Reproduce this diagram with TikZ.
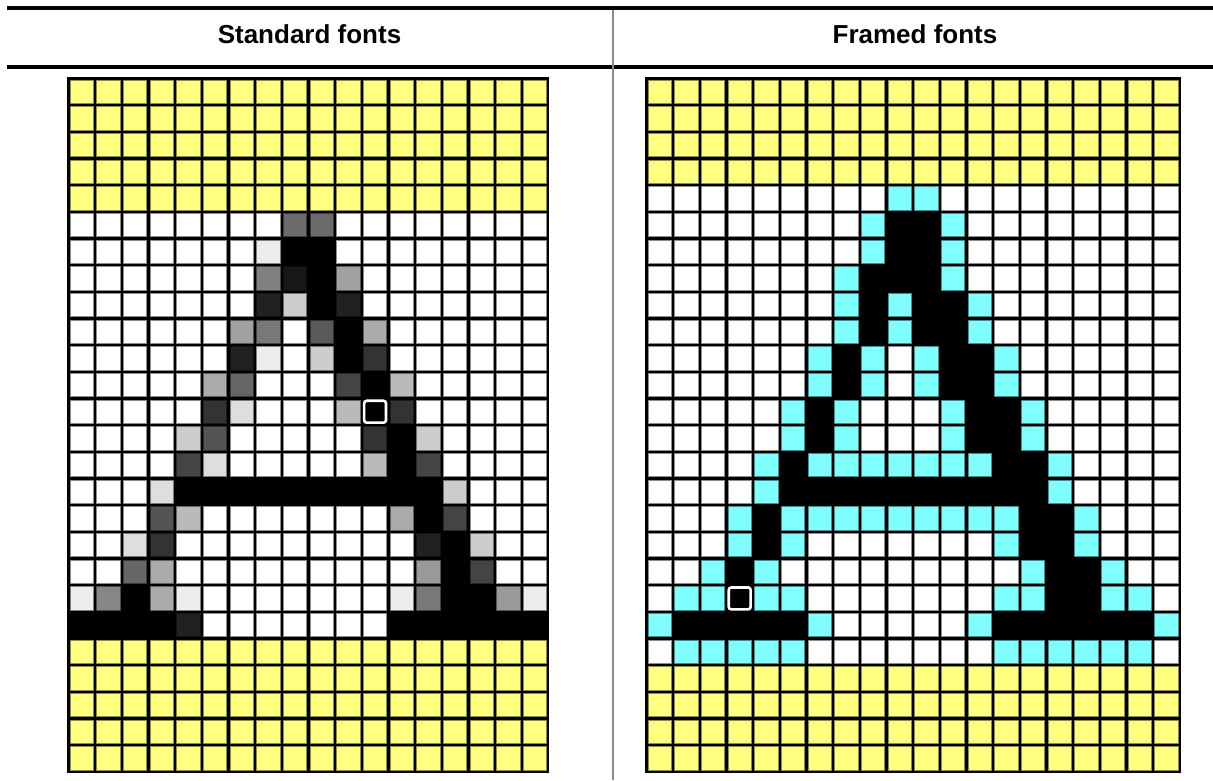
\documentclass[tikz,border=0pt]{standalone}
\usepackage{fontspec}
\setmainfont{Liberation Sans}
\usepackage{xcolor}
\usepackage{tikz}
\definecolor{padyellow}{RGB}{255,255,128}
\definecolor{framecyan}{RGB}{128,255,255}
\definecolor{rulegray}{RGB}{140,140,140}

\begin{document}
\begin{tikzpicture}[x=1pt,y=-1pt,
  cellfill/.style={fill=#1,draw=#1!55!black,line width=0.8pt},
  headtext/.style={font=\fontsize{26}{30}\selectfont\bfseries,anchor=base},
  cursorbox/.style={draw=white,line width=2.6pt,rounded corners=2.5pt}]
\useasboundingbox (0,0) rectangle (1213,780);
\def\pitch{26.67}
\def\xl{68.35}
\def\xr{646.35}
\def\ytop{78.35}
% header
\draw[line width=4.2pt] (7,8) -- (1213,8);
\draw[line width=4.4pt] (7,66.7) -- (1213,66.7);
\draw[rulegray,line width=1.8pt] (613,10) -- (613,780);
\node[headtext] (stdhead) at (309.5,43.5) {Standard fonts};
\node[headtext] (frmhead) at (915,43.5) {Framed fonts};
% standard font grid
\fill ({\xl-1},{\ytop-1}) rectangle ({\xl+18*\pitch+1},{\ytop+26*\pitch+1});
\foreach \c in {0,...,17}{
  \foreach \r in {0,...,25}{
    \ifnum\r<5 \def\bg{padyellow}\else\ifnum\r>20 \def\bg{padyellow}\else\def\bg{white}\fi\fi
    \filldraw[cellfill=\bg] ({\xl+\c*\pitch+1.65},{\ytop+\r*\pitch+1.65}) rectangle ++(23.37,23.37);
  }
}
\foreach \c/\r/\v in {8/0/42,9/0/42, 7/1/93, 7/2/50,8/2/9,10/2/63, 7/3/13,8/3/80,10/3/13,
  6/4/63,7/4/47,9/4/35,11/4/67, 6/5/13,7/5/93,9/5/80,11/5/20,
  5/6/67,6/6/40,10/6/27,12/6/73, 5/7/20,6/7/87,10/7/73,12/7/20,
  4/8/80,5/8/33,11/8/20,13/8/80, 4/9/27,5/9/87,11/9/73,13/9/27,
  3/10/87,14/10/80, 3/11/33,4/11/73,12/11/67,14/11/27,
  2/12/87,3/12/20,13/12/13,15/12/80, 2/13/40,3/13/67,13/13/60,15/13/27,
  0/14/93,1/14/53,3/14/67,4/14/93,12/14/93,13/14/47,16/14/60,17/14/93, 4/15/13}
  \filldraw[cellfill=white!\v!black] ({\xl+\c*\pitch+1.65},{\ytop+(\r+5)*\pitch+1.65}) rectangle ++(23.37,23.37);
\foreach \c/\r in {8/1,9/1, 9/2, 9/3, 10/4, 10/5, 11/6, 11/7, 12/8, 12/9,
  4/10,5/10,6/10,7/10,8/10,9/10,10/10,11/10,12/10,13/10, 13/11, 14/12, 14/13,
  2/14,14/14,15/14, 0/15,1/15,2/15,3/15,12/15,13/15,14/15,15/15,16/15,17/15}
  \fill ({\xl+\c*\pitch},{\ytop+(\r+5)*\pitch}) rectangle ++(\pitch,\pitch);
\draw[cursorbox] ({\xl+11*\pitch+2.4},{\ytop+12*\pitch+2.4}) rectangle ++(21.9,21.9);
% framed font grid
\fill ({\xr-1},{\ytop-1}) rectangle ({\xr+20*\pitch+1},{\ytop+26*\pitch+1});
\foreach \c in {0,...,19}{
  \foreach \r in {0,...,25}{
    \ifnum\r<4 \def\bg{padyellow}\else\ifnum\r>21 \def\bg{padyellow}\else\def\bg{white}\fi\fi
    \filldraw[cellfill=\bg] ({\xr+\c*\pitch+1.65},{\ytop+\r*\pitch+1.65}) rectangle ++(23.37,23.37);
  }
}
\foreach \c/\r in {9/0,10/0, 8/1,11/1, 8/2,11/2, 7/3,11/3, 7/4,9/4,12/4, 7/5,9/5,12/5,
  6/6,8/6,10/6,13/6, 6/7,8/7,10/7,13/7, 5/8,7/8,11/8,14/8, 5/9,7/9,11/9,14/9,
  4/10,6/10,7/10,8/10,9/10,10/10,11/10,12/10,15/10, 4/11,15/11,
  3/12,5/12,6/12,7/12,8/12,9/12,10/12,11/12,12/12,13/12,16/12, 3/13,5/13,13/13,16/13,
  2/14,4/14,14/14,17/14, 1/15,2/15,4/15,5/15,13/15,14/15,17/15,18/15,
  0/16,6/16,12/16,19/16, 1/17,2/17,3/17,4/17,5/17,13/17,14/17,15/17,16/17,17/17,18/17}
  \filldraw[cellfill=framecyan] ({\xr+\c*\pitch+1.65},{\ytop+(\r+4)*\pitch+1.65}) rectangle ++(23.37,23.37);
\foreach \c/\r in {9/1,10/1, 9/2,10/2, 8/3,9/3,10/3, 8/4,10/4,11/4, 8/5,10/5,11/5,
  7/6,11/6,12/6, 7/7,11/7,12/7, 6/8,12/8,13/8, 6/9,12/9,13/9, 5/10,13/10,14/10,
  5/11,6/11,7/11,8/11,9/11,10/11,11/11,12/11,13/11,14/11, 4/12,14/12,15/12, 4/13,14/13,15/13,
  3/14,15/14,16/14, 3/15,15/15,16/15, 1/16,2/16,3/16,4/16,5/16,13/16,14/16,15/16,16/16,17/16,18/16}
  \fill ({\xr+\c*\pitch},{\ytop+(\r+4)*\pitch}) rectangle ++(\pitch,\pitch);
\draw[cursorbox] ({\xr+3*\pitch+2.4},{\ytop+19*\pitch+2.4}) rectangle ++(21.9,21.9);
\end{tikzpicture}
\end{document}
